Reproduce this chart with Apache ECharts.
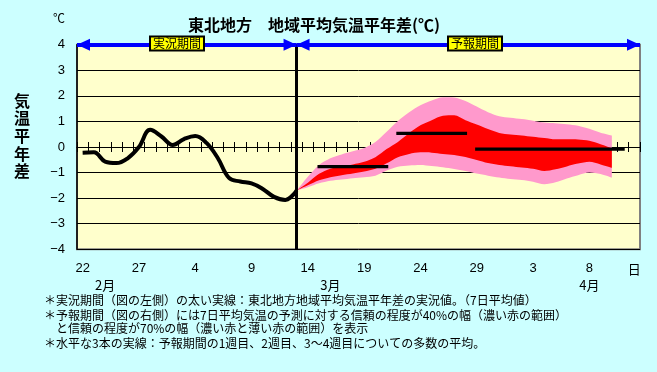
<!DOCTYPE html>
<html><head><meta charset="utf-8">
<script src="https://cdn.jsdelivr.net/npm/echarts@6/dist/echarts.min.js"></script>
<style>html,body{margin:0;padding:0;background:#CCFFFF}#c{width:657px;height:372px}</style>
</head><body><div id="c"></div>
<script>
// categories: one per day, Feb 22 .. Apr 12
const categories = [
 '2/22','2/23','2/24','2/25','2/26','2/27','2/28',
 '3/1','3/2','3/3','3/4','3/5','3/6','3/7','3/8','3/9','3/10','3/11','3/12','3/13','3/14','3/15','3/16',
 '3/17','3/18','3/19','3/20','3/21','3/22','3/23','3/24','3/25','3/26','3/27','3/28','3/29','3/30','3/31',
 '4/1','4/2','4/3','4/4','4/5','4/6','4/7','4/8','4/9','4/10','4/11','4/12'
];
const monthLabelIndex = [2, 22, 45];
const monthLabelText = ['2月', '3月', '4月'];
const yTicks = [-4, -3, -2, -1, 0, 1, 2, 3, 4];

// observed 7-day mean anomaly (index 0..19)
const observed = [-0.22,-0.21,-0.57,-0.63,-0.44,0.00,0.67,0.41,0.08,0.31,0.43,0.16,-0.43,-1.21,-1.35,-1.42,-1.64,-1.95,-2.07,-1.70];

// forecast period starts at this category index
const forecastStart = 19;
// 70% range (pink) and 40% range (red), index 19..47
const pinkUpper = [-1.70,-1.16,-0.70,-0.44,-0.29,-0.17,-0.04,0.20,0.60,1.02,1.36,1.63,1.82,1.95,1.94,1.80,1.58,1.36,1.20,1.14,1.09,1.03,0.96,0.93,0.89,0.83,0.71,0.56,0.45];
const redUpper  = [-1.70,-1.40,-1.05,-0.85,-0.76,-0.68,-0.58,-0.40,-0.08,0.20,0.55,0.85,1.05,1.22,1.24,1.05,0.88,0.70,0.55,0.49,0.45,0.40,0.35,0.30,0.30,0.29,0.24,0.11,-0.05];
const redLower  = [-1.70,-1.50,-1.30,-1.18,-1.10,-1.04,-0.96,-0.85,-0.64,-0.40,-0.27,-0.21,-0.22,-0.27,-0.31,-0.39,-0.51,-0.63,-0.70,-0.75,-0.80,-0.85,-0.94,-0.87,-0.76,-0.65,-0.58,-0.68,-0.81];
const pinkLower = [-1.70,-1.57,-1.42,-1.32,-1.27,-1.22,-1.18,-1.12,-0.92,-0.77,-0.72,-0.70,-0.74,-0.79,-0.86,-0.94,-1.04,-1.12,-1.19,-1.25,-1.29,-1.36,-1.46,-1.38,-1.23,-1.10,-1.00,-1.06,-1.20];

// weekly means: week1, week2, weeks3-4
const weekMean  = [-0.77, 0.53, -0.08];
const weekStart = [21, 28, 35];
const weekEnd   = [27, 34, 48];

const periodLabels = ['実況期間', '予報期間'];
const noteLines = [
 '＊実況期間（図の左側）の太い実線：東北地方地域平均気温平年差の実況値。（7日平均値）',
 '＊予報期間（図の右側）には7日平均気温の予測に対する信頼の程度が40%の幅（濃い赤の範囲）',
 '　と信頼の程度が70%の幅（濃い赤と薄い赤の範囲）を表示',
 '＊水平な3本の実線：予報期間の1週目、2週目、3～4週目についての多数の平均。'
];

const pad = arr => new Array(forecastStart).fill(null).concat(arr);
const diff = (a, b) => a.map((v, i) => +(v - b[i]).toFixed(3));

const JP = '"Noto Sans CJK JP", sans-serif';
const NUM = '"Liberation Sans", Arial, sans-serif';
const chart = echarts.init(document.getElementById('c'), null, {renderer: 'canvas'});

const bandSeries = (name, lower, upper, color) => [
  {type:'line', name: name+'base', xAxisIndex:0, yAxisIndex:0, data: pad(lower), stack: name, stackStrategy:'all',
   symbol:'none', smooth:0.3, lineStyle:{width:0, opacity:0}, silent:true, z:2},
  {type:'line', name: name, xAxisIndex:0, yAxisIndex:0, data: pad(diff(upper, lower)), stack: name, stackStrategy:'all',
   symbol:'none', smooth:0.3, lineStyle:{width:0, opacity:0}, areaStyle:{color: color, opacity:1}, silent:true, z:2}
];

const meanSeries = weekMean.map((v, i) => ({
  type:'line', xAxisIndex:0, yAxisIndex:0, data:[[weekStart[i], v],[weekEnd[i], v]],
  symbol:'none', lineStyle:{color:'#000', width:3.2, cap:'square'}, silent:true, z:5
}));

const option = {
  animation:false,
  backgroundColor:'#CCFFFF',
  title:{text:'東北地方　地域平均気温平年差(℃)', left:183, top:12,
    textStyle:{fontFamily:JP, fontSize:16, fontWeight:'bold', color:'#000'}},
  grid:{left:77, right:17, top:44.7, bottom:122.7, show:true, backgroundColor:'#FFFFCC',
    borderColor:'#808080', borderWidth:2},
  xAxis:[
    {type:'category', data:categories, position:'bottom', boundaryGap:true,
     axisLine:{show:false, onZero:false}, axisTick:{show:false}, splitLine:{show:false},
     axisLabel:{interval:(i)=> (i % 5 === 0 && i <= 45) || i === categories.length-1, margin:13,
       fontFamily:NUM, fontSize:13, color:'#000',
       formatter:(v, i)=> i === categories.length-1 ? '{u|日}' : v.split('/')[1],
       rich:{u:{fontFamily:JP, fontSize:13, color:'#000', padding:[0,0,6,0]}}}},
    {type:'category', data:categories, position:'bottom', boundaryGap:true,
     axisLine:{show:true, onZero:true, onZeroAxisIndex:0, lineStyle:{color:'#000', width:1}},
     axisTick:{show:true, inside:false, length:5, interval:0, lineStyle:{color:'#000', width:1}},
     axisLabel:{show:false}, splitLine:{show:false}},
    {type:'category', data:categories, position:'bottom', boundaryGap:true,
     axisLine:{show:true, onZero:true, onZeroAxisIndex:0, lineStyle:{color:'#000', width:1}},
     axisTick:{show:true, inside:true, length:5, interval:0, lineStyle:{color:'#000', width:1}},
     axisLabel:{show:false}, splitLine:{show:false}},
    {type:'category', data:categories, position:'bottom', offset:21, boundaryGap:true,
     axisLine:{show:false, onZero:false}, axisTick:{show:false}, splitLine:{show:false},
     axisLabel:{interval:(i)=> monthLabelIndex.indexOf(i) >= 0, margin:8, fontFamily:JP, fontSize:13, color:'#000',
       formatter:(v, i)=> monthLabelText[monthLabelIndex.indexOf(i)] || ''}},
    {type:'value', min:-0.5, max:categories.length-0.5, show:false}
  ],
  yAxis:[{type:'value', min:yTicks[0], max:yTicks[yTicks.length-1], interval:1,
    axisLine:{show:true, onZero:false, lineStyle:{color:'#000', width:1.5}}, axisTick:{show:false},
    splitLine:{show:true, lineStyle:{color:'#000', width:1}},
    axisLabel:{margin:12, fontFamily:NUM, fontSize:13, color:'#000',
      formatter:(v)=> String(v).replace('-', '−')}}],
  series:[
    ...bandSeries('pink', pinkLower, pinkUpper, '#FF99CC'),
    ...bandSeries('red', redLower, redUpper, '#FF0000'),
    {type:'line', name:'observed', xAxisIndex:0, yAxisIndex:0, data:observed, symbol:'none', smooth:0.4,
     lineStyle:{color:'#000', width:4}, silent:true, z:4,
     markLine:{silent:true, symbol:'none', label:{show:false}, animation:false,
       lineStyle:{color:'#000', width:3, type:'solid'}, data:[{xAxis: categories[forecastStart]}]}},
    ...meanSeries,
    {type:'line', name:'periods', xAxisIndex:4, yAxisIndex:0, data:[], symbol:'none', clip:false, z:6,
     markLine:{silent:true, animation:false, symbol:['triangle','triangle'], symbolSize:[12,13],
       symbolOffset:[[0,'50%'],[0,'50%']], label:{show:false},
       lineStyle:{color:'#0000FF', width:4, type:'solid'},
       data:[
         [{coord:[-0.5, yTicks[yTicks.length-1]]},{coord:[forecastStart, yTicks[yTicks.length-1]]}],
         [{coord:[forecastStart, yTicks[yTicks.length-1]]},{coord:[categories.length-0.5, yTicks[yTicks.length-1]]}]
       ]}}
  ],
  graphic:[
    {type:'text', left:53, top:12, style:{text:'℃', font:'12px '+JP, fill:'#000'}},
    {type:'text', x:22, y:136, style:{text:'気\n温\n平\n年\n差', font:'bold 16px '+JP, fill:'#000',
      align:'center', verticalAlign:'middle', lineHeight:17.7}},
    {type:'rect', z:100, zlevel:1, shape:{x:150, y:36.5, width:54, height:14}, style:{fill:'#FFFF00', stroke:'#000', lineWidth:2}},
    {type:'text', z:101, zlevel:1, x:177, y:43.8, style:{text:periodLabels[0], font:'12px '+JP, fill:'#000', align:'center', verticalAlign:'middle'}},
    {type:'rect', z:100, zlevel:1, shape:{x:448, y:36.5, width:54, height:14}, style:{fill:'#FFFF00', stroke:'#000', lineWidth:2}},
    {type:'text', z:101, zlevel:1, x:475, y:43.8, style:{text:periodLabels[1], font:'12px '+JP, fill:'#000', align:'center', verticalAlign:'middle'}},
    ...noteLines.map((t, i) => ({type:'text', x:44, y:[300, 315, 328.5, 343][i],
      style:{text:t, font:'12px '+JP, fill:'#000', align:'left', verticalAlign:'middle'}}))
  ]
};
chart.setOption(option);
</script></body></html>
